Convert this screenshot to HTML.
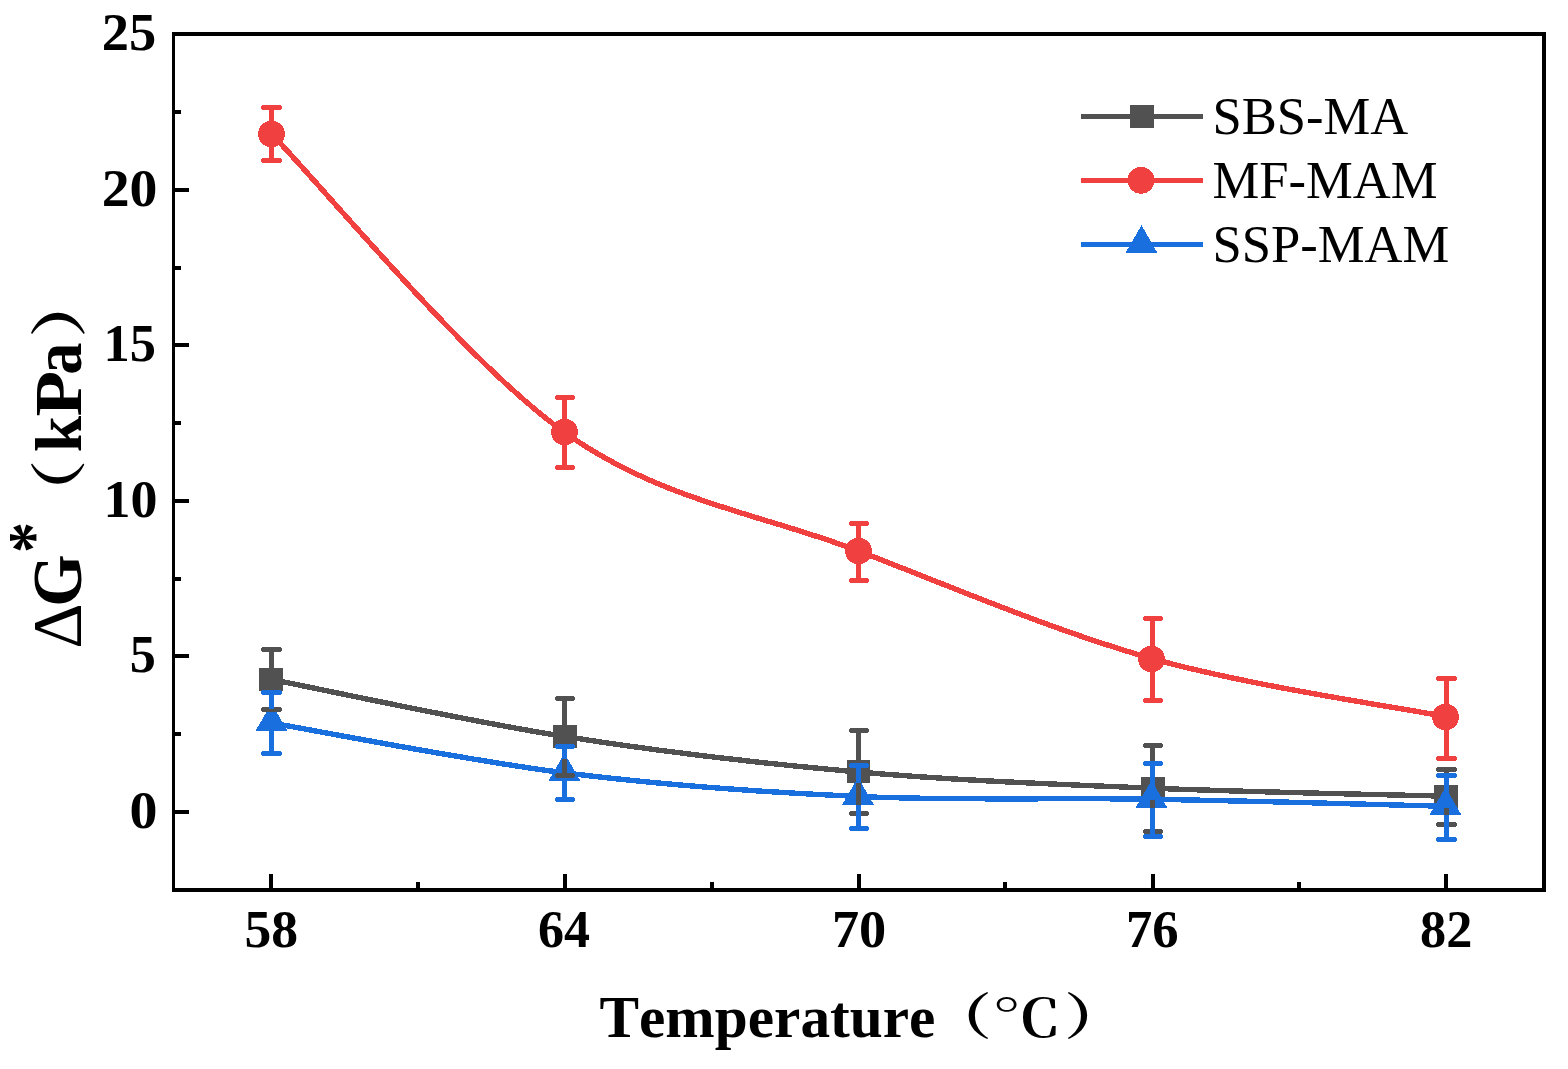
<!DOCTYPE html>
<html lang="en">
<head>
<meta charset="utf-8">
<title>ΔG* versus Temperature</title>
<style>
html,body{margin:0;padding:0;background:#fff;}
svg{display:block;}
text{font-family:"Liberation Serif", "Noto Serif CJK SC", serif;fill:#000;font-kerning:none;}
.tick{font-size:52.2px;font-weight:bold;}
.leg{font-size:52.6px;}
.xt{font-size:59.3px;font-weight:bold;}
.yt{font-size:66px;font-weight:bold;}
</style>
</head>
<body>
<svg width="1568" height="1069" viewBox="0 0 1568 1069" role="img" aria-label="ΔG* (kPa) versus Temperature (℃) for SBS-MA, MF-MAM and SSP-MAM">
<rect width="1568" height="1069" fill="#fff"/>
<g id="plots" fill="none" stroke-linejoin="round" shape-rendering="crispEdges">
<path d="M271.5,679.5 C320.33,689 466.67,721.08 564.5,736.5 C662.33,751.92 760.5,763.38 858.5,772 C956.5,780.62 1054.5,784.17 1152.5,788.2 C1250.5,792.23 1397.5,794.87 1446.5,796.2" stroke="#515151" stroke-width="5.4"/>
<rect x="259" y="668" width="24" height="23" fill="#515151"/>
<rect x="553" y="725" width="24" height="23" fill="#515151"/>
<rect x="847" y="760" width="23" height="23" fill="#515151"/>
<rect x="1141" y="777" width="24" height="23" fill="#515151"/>
<rect x="1434" y="785" width="24" height="23" fill="#515151"/>
<path d="M271.5,134 C320.33,183.72 466.67,362.8 564.5,432.3 C662.33,501.8 760.5,513.27 858.5,551 C956.5,588.73 1054.5,631.07 1152.5,658.7 C1250.5,686.33 1397.5,707.12 1446.5,716.8" stroke="#F14040" stroke-width="5.4"/>
<circle cx="271.5" cy="134" r="13.4" fill="#F14040"/>
<circle cx="564.5" cy="432" r="13.4" fill="#F14040"/>
<circle cx="858.5" cy="551" r="13.4" fill="#F14040"/>
<circle cx="1151.5" cy="659" r="13.4" fill="#F14040"/>
<circle cx="1445.5" cy="717" r="13.4" fill="#F14040"/>
<path d="M271.5,723 C320.33,731.3 466.67,760.55 564.5,772.8 C662.33,785.05 760.5,792.1 858.5,796.5 C956.5,800.9 1054.5,797.57 1152.5,799.2 C1250.5,800.83 1397.5,805.12 1446.5,806.3" stroke="#1A6FDF" stroke-width="5.4"/>
<polygon points="271.5,703.3 287.7,731.3 255.3,731.3" fill="#1A6FDF"/>
<polygon points="564.5,753.3 580.7,781.3 548.3,781.3" fill="#1A6FDF"/>
<polygon points="858,777.3 874.2,805.3 841.8,805.3" fill="#1A6FDF"/>
<polygon points="1151.5,780.3 1167.7,808.3 1135.3,808.3" fill="#1A6FDF"/>
<polygon points="1445.5,787.3 1461.7,815.3 1429.3,815.3" fill="#1A6FDF"/>
</g>
<g id="errors" shape-rendering="crispEdges">
<g fill="#515151"><rect x="269" y="647" width="5" height="21"/><rect x="269" y="691" width="5" height="21"/><rect x="261" y="648" width="21" height="3"/><rect x="262" y="647" width="19" height="5"/><rect x="261" y="708" width="21" height="3"/><rect x="262" y="707" width="19" height="5"/></g>
<g fill="#515151"><rect x="562" y="696" width="5" height="29"/><rect x="562" y="748" width="5" height="30"/><rect x="555" y="697" width="20" height="3"/><rect x="556" y="696" width="18" height="5"/><rect x="555" y="774" width="20" height="3"/><rect x="556" y="773" width="18" height="5"/></g>
<g fill="#515151"><rect x="856" y="728" width="5" height="32"/><rect x="856" y="783" width="5" height="33"/><rect x="849" y="729" width="20" height="3"/><rect x="850" y="728" width="18" height="5"/><rect x="849" y="812" width="20" height="3"/><rect x="850" y="811" width="18" height="5"/></g>
<g fill="#515151"><rect x="1150" y="743" width="5" height="34"/><rect x="1150" y="800" width="5" height="34"/><rect x="1143" y="744" width="20" height="3"/><rect x="1144" y="743" width="18" height="5"/><rect x="1143" y="830" width="20" height="3"/><rect x="1144" y="829" width="18" height="5"/></g>
<g fill="#515151"><rect x="1444" y="767" width="5" height="18"/><rect x="1444" y="808" width="5" height="19"/><rect x="1436" y="768" width="21" height="3"/><rect x="1437" y="767" width="19" height="5"/><rect x="1436" y="823" width="21" height="3"/><rect x="1437" y="822" width="19" height="5"/></g>
<g fill="#F14040"><rect x="269" y="105" width="5" height="16"/><rect x="269" y="147" width="5" height="16"/><rect x="261" y="106" width="21" height="3"/><rect x="262" y="105" width="19" height="5"/><rect x="261" y="159" width="21" height="3"/><rect x="262" y="158" width="19" height="5"/></g>
<g fill="#F14040"><rect x="562" y="395" width="5" height="24"/><rect x="562" y="445" width="5" height="25"/><rect x="555" y="396" width="20" height="3"/><rect x="556" y="395" width="18" height="5"/><rect x="555" y="466" width="20" height="3"/><rect x="556" y="465" width="18" height="5"/></g>
<g fill="#F14040"><rect x="856" y="521" width="5" height="17"/><rect x="856" y="564" width="5" height="19"/><rect x="849" y="522" width="20" height="3"/><rect x="850" y="521" width="18" height="5"/><rect x="849" y="579" width="20" height="3"/><rect x="850" y="578" width="18" height="5"/></g>
<g fill="#F14040"><rect x="1150" y="616" width="5" height="30"/><rect x="1150" y="672" width="5" height="31"/><rect x="1143" y="617" width="20" height="3"/><rect x="1144" y="616" width="18" height="5"/><rect x="1143" y="699" width="20" height="3"/><rect x="1144" y="698" width="18" height="5"/></g>
<g fill="#F14040"><rect x="1444" y="676" width="5" height="28"/><rect x="1444" y="730" width="5" height="31"/><rect x="1436" y="677" width="21" height="3"/><rect x="1437" y="676" width="19" height="5"/><rect x="1436" y="757" width="21" height="3"/><rect x="1437" y="756" width="19" height="5"/></g>
<g fill="#1A6FDF"><rect x="269" y="690" width="5" height="19"/><rect x="269" y="731" width="5" height="25"/><rect x="261" y="691" width="21" height="3"/><rect x="262" y="690" width="19" height="5"/><rect x="261" y="752" width="21" height="3"/><rect x="262" y="751" width="19" height="5"/></g>
<g fill="#1A6FDF"><rect x="562" y="744" width="5" height="15"/><rect x="562" y="781" width="5" height="21"/><rect x="555" y="745" width="20" height="3"/><rect x="556" y="744" width="18" height="5"/><rect x="555" y="798" width="20" height="3"/><rect x="556" y="797" width="18" height="5"/></g>
<g fill="#1A6FDF"><rect x="856" y="763" width="5" height="20"/><rect x="856" y="805" width="5" height="26"/><rect x="849" y="764" width="20" height="3"/><rect x="850" y="763" width="18" height="5"/><rect x="849" y="827" width="20" height="3"/><rect x="850" y="826" width="18" height="5"/></g>
<g fill="#1A6FDF"><rect x="1150" y="761" width="5" height="25"/><rect x="1150" y="808" width="5" height="31"/><rect x="1143" y="762" width="20" height="3"/><rect x="1144" y="761" width="18" height="5"/><rect x="1143" y="835" width="20" height="3"/><rect x="1144" y="834" width="18" height="5"/></g>
<g fill="#1A6FDF"><rect x="1444" y="773" width="5" height="20"/><rect x="1444" y="815" width="5" height="27"/><rect x="1436" y="774" width="21" height="3"/><rect x="1437" y="773" width="19" height="5"/><rect x="1436" y="838" width="21" height="3"/><rect x="1437" y="837" width="19" height="5"/></g>
</g>
<g id="axes" fill="#000" shape-rendering="crispEdges">
<rect x="172" y="32" width="1374" height="4"/>
<rect x="172" y="888" width="1374" height="4"/>
<rect x="172" y="32" width="3" height="860"/>
<rect x="1542" y="32" width="4" height="860"/>
<rect x="175" y="188" width="14" height="4"/>
<rect x="175" y="343" width="14" height="4"/>
<rect x="175" y="499" width="14" height="4"/>
<rect x="175" y="654" width="14" height="4"/>
<rect x="175" y="810" width="14" height="4"/>
<rect x="175" y="110" width="6" height="4"/>
<rect x="175" y="266" width="6" height="4"/>
<rect x="175" y="421" width="6" height="4"/>
<rect x="175" y="577" width="6" height="4"/>
<rect x="175" y="732" width="6" height="4"/>
<rect x="269" y="874" width="4" height="14"/>
<rect x="563" y="874" width="4" height="14"/>
<rect x="857" y="874" width="4" height="14"/>
<rect x="1151" y="874" width="4" height="14"/>
<rect x="1444" y="874" width="4" height="14"/>
<rect x="416" y="882" width="4" height="6"/>
<rect x="710" y="882" width="4" height="6"/>
<rect x="1003" y="882" width="4" height="6"/>
<rect x="1297" y="882" width="4" height="6"/>
</g>
<g id="ticklabels">
<text transform="translate(101.72,49.58) scale(0.5449,0.5224)" style='font-family:"Liberation Serif", "Liberation Serif", serif;font-weight:bold;font-size:100px'>25</text>
<text transform="translate(101.67,205.78) scale(0.5576,0.5244)" style='font-family:"Liberation Serif", "Liberation Serif", serif;font-weight:bold;font-size:100px'>20</text>
<text transform="translate(103.61,360.57) scale(0.5243,0.5263)" style='font-family:"Liberation Serif", "Liberation Serif", serif;font-weight:bold;font-size:100px'>15</text>
<text transform="translate(103.48,516.78) scale(0.5398,0.5200)" style='font-family:"Liberation Serif", "Liberation Serif", serif;font-weight:bold;font-size:100px'>10</text>
<text transform="translate(129.81,671.77) scale(0.5224,0.5293)" style='font-family:"Liberation Serif", "Liberation Serif", serif;font-weight:bold;font-size:100px'>5</text>
<text transform="translate(129.46,827.78) scale(0.5595,0.5230)" style='font-family:"Liberation Serif", "Liberation Serif", serif;font-weight:bold;font-size:100px'>0</text>
<text transform="translate(244.56,946.78) scale(0.5362,0.5230)" style='font-family:"Liberation Serif", "Liberation Serif", serif;font-weight:bold;font-size:100px'>58</text>
<text transform="translate(538.08,946.77) scale(0.5206,0.5269)" style='font-family:"Liberation Serif", "Liberation Serif", serif;font-weight:bold;font-size:100px'>64</text>
<text transform="translate(831.91,946.78) scale(0.5436,0.5230)" style='font-family:"Liberation Serif", "Liberation Serif", serif;font-weight:bold;font-size:100px'>70</text>
<text transform="translate(1126,946.77) scale(0.5268,0.5269)" style='font-family:"Liberation Serif", "Liberation Serif", serif;font-weight:bold;font-size:100px'>76</text>
<text transform="translate(1420.07,946.78) scale(0.5228,0.5230)" style='font-family:"Liberation Serif", "Liberation Serif", serif;font-weight:bold;font-size:100px'>82</text>
</g>
<g id="titles">
<text class="xt" x="599.5" y="1037">Temperature</text>
<text transform="translate(926.79,1033.52) scale(0.6533,0.4974)" style='font-family:"Noto Serif CJK SC", "Liberation Serif", serif;font-weight:bold;font-size:100px'>（</text>
<text transform="translate(992.11,1037.21) scale(0.6982,0.5256)" style='font-family:"Noto Serif CJK SC", "Liberation Serif", serif;font-weight:600;font-size:100px'>℃</text>
<text transform="translate(1063.92,1033.52) scale(0.6467,0.4974)" style='font-family:"Noto Serif CJK SC", "Liberation Serif", serif;font-weight:bold;font-size:100px'>）</text>
<g transform="translate(81,646) rotate(-90)">
<text transform="translate(-2.83,0) scale(0.7080,0.7023)" style='font-family:"Liberation Serif", "Liberation Serif", serif;font-weight:normal;font-size:100px'>Δ</text>
<text transform="translate(39.33,-0.01) scale(0.6743,0.7060)" style='font-family:"Liberation Serif", "Liberation Serif", serif;font-weight:bold;font-size:100px'>G</text>
<text transform="translate(93.11,-25.26) scale(0.6195,0.6907)" style='font-family:"Liberation Serif", "Liberation Serif", serif;font-weight:bold;font-size:100px'>*</text>
<text transform="translate(118.58,-2.37) scale(0.6800,0.5630)" style='font-family:"Noto Serif CJK SC", "Liberation Serif", serif;font-weight:bold;font-size:100px'>（</text>
<text transform="translate(193.67,0) scale(0.6528,0.6507)" style='font-family:"Liberation Serif", "Liberation Serif", serif;font-weight:bold;font-size:100px'>k</text>
<text transform="translate(229.38,0) scale(0.7451,0.6855)" style='font-family:"Liberation Serif", "Liberation Serif", serif;font-weight:bold;font-size:100px'>P</text>
<text transform="translate(271.37,0.45) scale(0.6440,0.6905)" style='font-family:"Liberation Serif", "Liberation Serif", serif;font-weight:bold;font-size:100px'>a</text>
<text transform="translate(307.74,-2.41) scale(0.7100,0.5683)" style='font-family:"Noto Serif CJK SC", "Liberation Serif", serif;font-weight:bold;font-size:100px'>）</text>
</g>
</g>
<g id="legend" shape-rendering="crispEdges">
<rect x="1081" y="114" width="122" height="5" fill="#515151"/>
<rect x="1130" y="105" width="24" height="23" fill="#515151"/>
<rect x="1081" y="178" width="122" height="5" fill="#F14040"/>
<circle cx="1141" cy="180.3" r="13.4" fill="#F14040"/>
<rect x="1081" y="242" width="122" height="5" fill="#1A6FDF"/>
<polygon points="1141.5,225.3 1157.7,253.3 1125.3,253.3" fill="#1A6FDF"/>
</g>
<g id="legendtext" class="leg">
<text x="1212.5" y="134">SBS-MA</text>
<text x="1212.5" y="198">MF-MAM</text>
<text x="1212.5" y="262">SSP-MAM</text>
</g>
</svg>
</body>
</html>
